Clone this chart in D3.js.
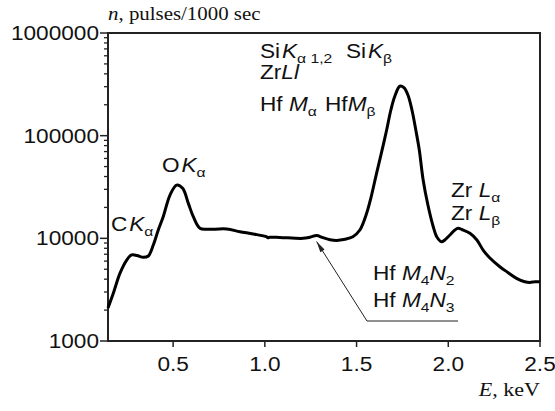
<!DOCTYPE html>
<html lang="en">
<head>
<meta charset="utf-8">
<script src="https://d3js.org/d3.v7.min.js"></script>
<style type="text/css">
body {
	margin: 0;
	background-color: #ffffff;
}
.sans {
	font-family: "Liberation Sans", Arial, sans-serif;
	font-size: 19.5px;
	fill: #111;
}
.serif {
	font-family: "Liberation Serif", "Times New Roman", serif;
	font-size: 18px;
	fill: #111;
}
</style>
</head>
<body>
<script type="text/javascript">

// spectrum: energy (keV) and count rate (pulses/1000 sec)
var energy = [0.145, 0.174, 0.210, 0.247, 0.274, 0.303, 0.337, 0.365, 0.392, 0.419,
  0.446, 0.483, 0.519, 0.552, 0.583, 0.610, 0.646, 0.683, 0.792, 0.864,
  0.937, 1.010, 1.017, 1.028, 1.082, 1.208, 1.246, 1.282, 1.317, 1.355,
  1.391, 1.437, 1.480, 1.518, 1.555, 1.578, 1.609, 1.633, 1.664, 1.687,
  1.709, 1.736, 1.758, 1.780, 1.802, 1.823, 1.842, 1.863, 1.889, 1.918,
  1.938, 1.963, 1.981, 2.009, 2.036, 2.054, 2.074, 2.118, 2.156, 2.190,
  2.227, 2.281, 2.325, 2.372, 2.417, 2.445, 2.472, 2.499];
var counts = [2100, 2920, 4560, 6150, 6890, 6810, 6530, 6730, 8610, 12050,
  16240, 26400, 33000, 30700, 21900, 16240, 12530, 12240, 12330, 11600,
  11020, 10350, 10150, 10250, 10200, 10000, 10250, 10650, 10150, 9700,
  9550, 9800, 10370, 12050, 17540, 24700, 43000, 64900, 113500, 177800,
  243300, 303000, 293000, 248900, 177800, 113500, 72400, 37000, 21100, 12980,
  10300, 9270, 9640, 10770, 12050, 12530, 12190, 11190, 9640, 7690,
  6430, 5290, 4650, 4080, 3780, 3720, 3780, 3780];

var xTicks = [0.5, 1.0, 1.5, 2.0, 2.5];
var yTicks = [1000, 10000, 100000, 1000000];

var width = 555;
var height = 411;
var padL = 108, padT = 33, padR = 540, padB = 341;
var stretch = 1.16; // the original lettering is a bit wide

var x = d3.scaleLinear().domain([0.145, 2.5]).range([padL, padR]);
var y = d3.scaleLog().domain([1000, 1000000]).range([padB, padT]);

var svg = d3.select("body")
  .append("svg")
  .attr("width", width)
  .attr("height", height);

// text helper: parts are [text, kind], kind n = normal, i = italic, s = subscript
function label(px, py, parts, cls, anchor) {
  var g = svg.append("g")
    .attr("transform", "translate(" + px + "," + py + ") scale(" + stretch + ",1)");
  var t = g.append("text")
    .attr("class", cls || "sans")
    .attr("text-anchor", anchor || "start");
  var low = false;
  parts.forEach(function(p) {
    var s = t.append("tspan").text(p[0]);
    var sub = p[1].indexOf("s") >= 0;
    if (p[1].indexOf("i") >= 0) s.style("font-style", "italic");
    if (sub) s.style("font-size", "13.5px");
    if (sub && !low) { s.attr("dy", 5); low = true; }
    else if (!sub && low) { s.attr("dy", -5); low = false; }
  });
  return g;
}

// frame
svg.append("rect")
  .attr("x", padL)
  .attr("y", padT)
  .attr("width", padR - padL)
  .attr("height", padB - padT)
  .style("fill", "none")
  .style("stroke", "#222")
  .style("stroke-width", 2);

// y ticks, major and minor
var minor = [];
for (var d = 1000; d < 1000000; d *= 10) {
  for (var k = 2; k <= 9; k++) minor.push(d * k);
}
svg.selectAll("line.minor")
  .data(minor)
  .enter()
  .append("line")
  .attr("class", "minor")
  .attr("x1", padL - 4).attr("x2", padL)
  .attr("y1", function(d) { return y(d); })
  .attr("y2", function(d) { return y(d); })
  .style("stroke", "#222")
  .style("stroke-width", 1.3);

svg.selectAll("line.ymajor")
  .data(yTicks)
  .enter()
  .append("line")
  .attr("class", "ymajor")
  .attr("x1", padL - 8).attr("x2", padL)
  .attr("y1", function(d) { return y(d); })
  .attr("y2", function(d) { return y(d); })
  .style("stroke", "#222")
  .style("stroke-width", 1.5);

yTicks.forEach(function(v) {
  label(99, y(v) + 7, [[String(v), "n"]], "sans", "end");
});

// x ticks
svg.selectAll("line.xmajor")
  .data(xTicks)
  .enter()
  .append("line")
  .attr("class", "xmajor")
  .attr("x1", function(d) { return x(d); })
  .attr("x2", function(d) { return x(d); })
  .attr("y1", padB).attr("y2", padB + 6)
  .style("stroke", "#222")
  .style("stroke-width", 1.5);

xTicks.forEach(function(v) {
  label(x(v), 371, [[v.toFixed(1), "n"]], "sans", "middle");
});

// axis titles
label(padL, 20, [["n", "i"], [", pulses/1000 sec", "n"]], "serif");
label(padR, 396, [["E", "i"], [", keV", "n"]], "serif", "end")
  .select("text").style("font-size", "19px");

// spectrum
var line = d3.line()
  .x(function(d, i) { return x(energy[i]); })
  .y(function(d) { return y(d); })
  .curve(d3.curveCatmullRom.alpha(0.5));

svg.append("path")
  .datum(counts)
  .attr("d", line)
  .style("fill", "none")
  .style("stroke", "#000")
  .style("stroke-width", 3)
  .style("stroke-linejoin", "round");

// peak labels
label(111, 231, [["C\u200a", "n"], ["K", "i"], ["\u03b1", "s"]]);
label(162, 172, [["O\u200a", "n"], ["K", "i"], ["\u03b1", "s"]]);
label(260, 58, [["Si\u200a", "n"], ["K", "i"], ["\u03b1 1,2", "s"]]);
label(346, 58, [["Si\u200a", "n"], ["K", "i"], ["\u03b2", "s"]]);
label(260, 79, [["Zr", "n"], ["Ll", "i"]]);
label(260, 111, [["Hf ", "n"], ["M", "i"], ["\u03b1", "s"]]);
label(325, 111, [["Hf", "n"], ["M", "i"], ["\u03b2", "s"]]);
label(451, 197, [["Zr", "n"], [" L", "i"], ["\u03b1", "s"]]);
label(451, 220, [["Zr", "n"], [" L", "i"], ["\u03b2", "s"]]);
label(373, 280, [["Hf ", "n"], ["M", "i"], ["4", "s"], ["N", "i"], ["2", "s"]]);
label(373, 307, [["Hf ", "n"], ["M", "i"], ["4", "s"], ["N", "i"], ["3", "s"]]);

// leader to the Hf M4N bump
var tipE = 1.282, tipN = 10650;
var tip = [x(tipE), y(tipN) + 6];
svg.append("path")
  .attr("d", "M458,321 L367,321 L" + tip[0] + "," + tip[1])
  .style("fill", "none")
  .style("stroke", "#222")
  .style("stroke-width", 1);

var ang = Math.atan2(321 - tip[1], 367 - tip[0]);
var hl = 11, hw = 2.5;
var bx = tip[0] + hl * Math.cos(ang), by = tip[1] + hl * Math.sin(ang);
svg.append("path")
  .attr("d", "M" + tip[0] + "," + tip[1] +
    " L" + (bx - hw * Math.sin(ang)) + "," + (by + hw * Math.cos(ang)) +
    " L" + (bx + hw * Math.sin(ang)) + "," + (by - hw * Math.cos(ang)) + "Z")
  .style("fill", "#222");

</script>
</body>
</html>
